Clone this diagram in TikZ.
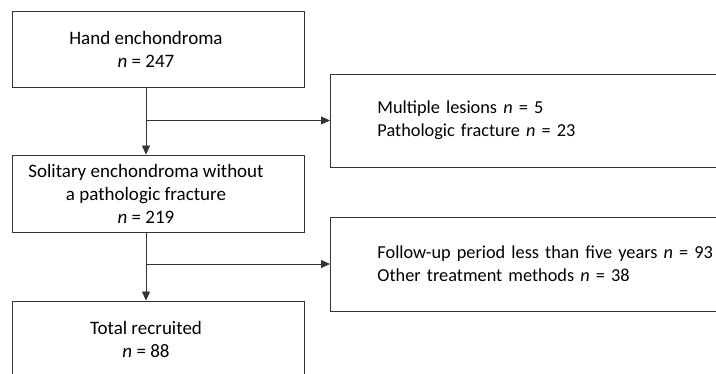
\documentclass[tikz,border=0pt]{standalone}
\usepackage{fontspec}
\setmainfont{Carlito}
\usetikzlibrary{arrows.meta}
\begin{document}
\begin{tikzpicture}[x=1pt, y=-1pt,
    box/.style={draw=black!80, line width=0.9pt, minimum width=292pt, inner sep=0pt},
    boxtext/.style={align=center, font=\fontsize{19}{23}\selectfont},
    side/.style={draw=black!80, line width=0.9pt, anchor=west, minimum width=430pt, text width=383pt, inner xsep=47pt, align=left, font=\fontsize{18.3}{23}\selectfont},
    arr/.style={draw=black!80, line width=0.8pt, -{Triangle[length=9pt,width=8pt]}}]
\useasboundingbox (0,0) rectangle (716,373);
\clip (0,0) rectangle (716,373);
% main column
\node[box, minimum height=76pt, label={[boxtext, xshift=-12pt]center:Hand enchondroma\\\textit{n} = 247}] (hand) at (158,49) {};
\node[box, minimum height=77pt, label={[boxtext, xshift=-12pt]center:Solitary enchondroma without\\a pathologic fracture\\\textit{n} = 219}] (solitary) at (158,193.5) {};
\node[box, minimum height=77pt, label={[boxtext, xshift=-12pt]center:Total recruited\\\textit{n} = 88}] (total) at (158,339.5) {};
% exclusions
\node[side, minimum height=93pt] (excl1) at (330,120.5) {Multiple lesions \textit{n} = 5\\Pathologic fracture \textit{n} = 23};
\node[side, minimum height=94pt] (excl2) at (330,264) {Follow-up period less than five years \textit{n} = 93\\Other treatment methods \textit{n} = 38};
% arrows
\draw[arr] ([xshift=-12pt]hand.south) -- ([xshift=-12pt]solitary.north);
\draw[arr] ([xshift=-12pt]hand.south |- excl1.west) -- (excl1.west);
\draw[arr] ([xshift=-12pt]solitary.south) -- ([xshift=-12pt]total.north);
\draw[arr] ([xshift=-12pt]solitary.south |- excl2.west) -- (excl2.west);
\end{tikzpicture}
\end{document}
